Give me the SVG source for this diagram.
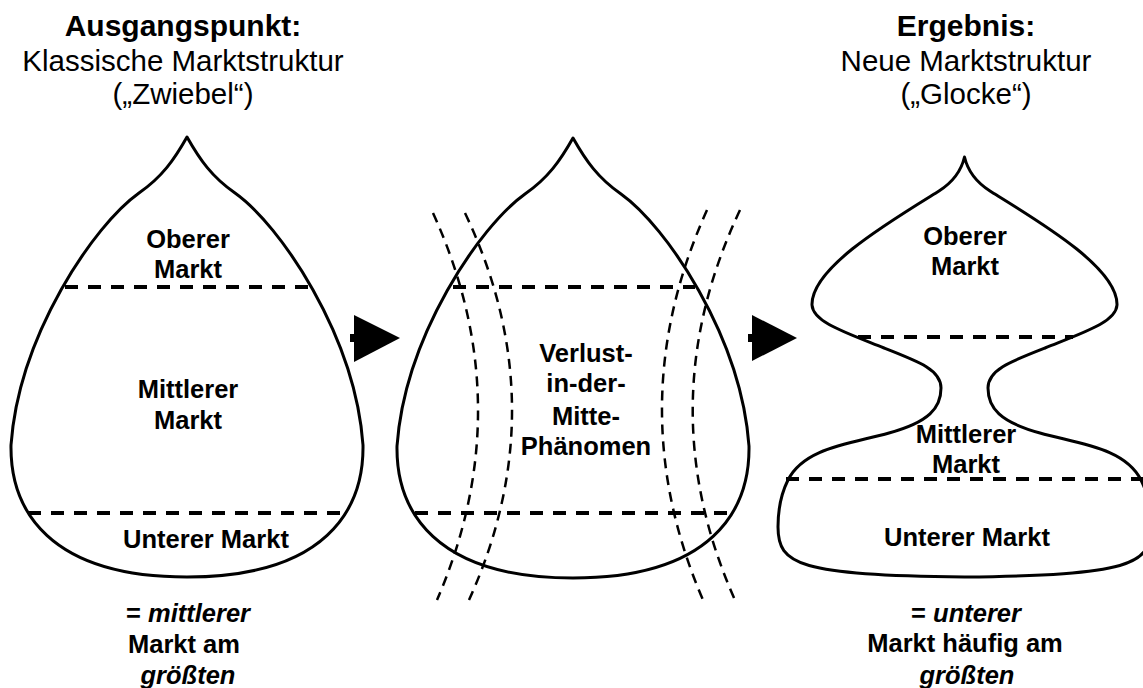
<svg xmlns="http://www.w3.org/2000/svg" xmlns:xlink="http://www.w3.org/1999/xlink" width="1143" height="688" viewBox="0 0 1143 688">
  <style>
    .outline { fill: none; stroke: #000; stroke-width: 3; stroke-linejoin: round; }
    .divider { fill: none; stroke: #000; stroke-width: 4; stroke-dasharray: 13 10; }
    .cut { fill: none; stroke: #000; stroke-width: 2.5; stroke-dasharray: 10 7; }
    .head { font-family: "Liberation Sans", Arial, sans-serif; font-size: 30px; font-weight: bold; fill: #000; text-anchor: middle; }
    .sub { font-family: "Liberation Sans", Arial, sans-serif; font-size: 29.5px; fill: #000; text-anchor: middle; }
    .lbl { font-family: "Liberation Sans", Arial, sans-serif; font-size: 25.5px; font-weight: bold; fill: #000; text-anchor: middle; }
    .it { font-style: italic; }
  </style>
  <defs>
    <!-- onion outline, centred on x=187 -->
    <path id="onion" d="M187,137 C200,160 212,177 235,193 C280,225 355,335 363,445 C364,510 325,577 187,577 C49,577 10,510 11,445 C19,335 94,225 139,193 C162,177 174,160 187,137 Z"/>
  </defs>

  <rect width="1143" height="688" fill="#fff"/>

  <!-- left: classic market structure -->
  <g id="zwiebel">
    <text class="head" x="183" y="36">Ausgangspunkt:</text>
    <text class="sub" x="183" y="71">Klassische Marktstruktur</text>
    <text class="sub" x="183" y="104">(„Zwiebel“)</text>
    <use xlink:href="#onion" class="outline"/>
    <line class="divider" x1="65" y1="287" x2="310" y2="287"/>
    <line class="divider" x1="28" y1="513" x2="343" y2="513"/>
    <text class="lbl" x="188" y="248">Oberer</text>
    <text class="lbl" x="188" y="278">Markt</text>
    <text class="lbl" x="188" y="398">Mittlerer</text>
    <text class="lbl" x="188" y="429">Markt</text>
    <text class="lbl" x="206" y="548">Unterer Markt</text>
    <text class="lbl" x="188" y="622">= <tspan class="it">mittlerer</tspan></text>
    <text class="lbl" x="184" y="653">Markt am</text>
    <text class="lbl it" x="188" y="684">größten</text>
  </g>

  <!-- middle: hollowing out of the middle -->
  <g id="verlust">
    <use xlink:href="#onion" class="outline" transform="translate(386,1)"/>
    <line class="divider" x1="453" y1="287" x2="695" y2="287"/>
    <line class="divider" x1="415" y1="513" x2="731" y2="513"/>
    <path class="cut" d="M433,213 Q521,406 437,600"/>
    <path class="cut" d="M465,213 Q557,406 469,600"/>
    <path class="cut" d="M707,210 Q619,405 703,600"/>
    <path class="cut" d="M740,210 Q648,405 735,600"/>
    <text class="lbl" x="586" y="362">Verlust-</text>
    <text class="lbl" x="586" y="392">in-der-</text>
    <text class="lbl" x="586" y="425">Mitte-</text>
    <text class="lbl" x="586" y="455">Phänomen</text>
  </g>

  <!-- right: new market structure -->
  <g id="glocke">
    <text class="head" x="966" y="36">Ergebnis:</text>
    <text class="sub" x="966" y="71">Neue Marktstruktur</text>
    <text class="sub" x="966" y="104">(„Glocke“)</text>
    <path class="outline" d="M964.5,157 C968,172 976,182 990,191 C1040,222 1118,268 1117,305 C1116,322 1085,332 1045,348 C1009,362 988,370 988,388 C988,408 1000,422 1040,433 C1080,444 1125,448 1141,480 C1147,492 1151,510 1151,527 C1151,565 1130,575 964.5,577 C799,575 778,565 778,527 C778,510 782,492 788,480 C804,448 849,444 889,433 C929,422 941,408 941,388 C941,370 920,362 884,348 C844,332 813,322 812,305 C811,268 889,222 939,191 C953,182 961,172 964.5,157 Z"/>
    <line class="divider" x1="858" y1="337" x2="1073" y2="337"/>
    <line class="divider" x1="786" y1="479" x2="1143" y2="479"/>
    <text class="lbl" x="965" y="245">Oberer</text>
    <text class="lbl" x="965" y="275">Markt</text>
    <text class="lbl" x="966" y="443">Mittlerer</text>
    <text class="lbl" x="966" y="473">Markt</text>
    <text class="lbl" x="967" y="546">Unterer Markt</text>
    <text class="lbl" x="966" y="622">= <tspan class="it">unterer</tspan></text>
    <text class="lbl" x="965" y="652">Markt häufig am</text>
    <text class="lbl it" x="967" y="684">größten</text>
  </g>

  <!-- transition arrows -->
  <g id="connectors">
    <rect x="350" y="334" width="5" height="8"/>
    <polygon points="354,315 400,338 354,362"/>
    <rect x="748" y="334" width="5" height="8"/>
    <polygon points="752,315 797,338 752,361"/>
  </g>
</svg>
